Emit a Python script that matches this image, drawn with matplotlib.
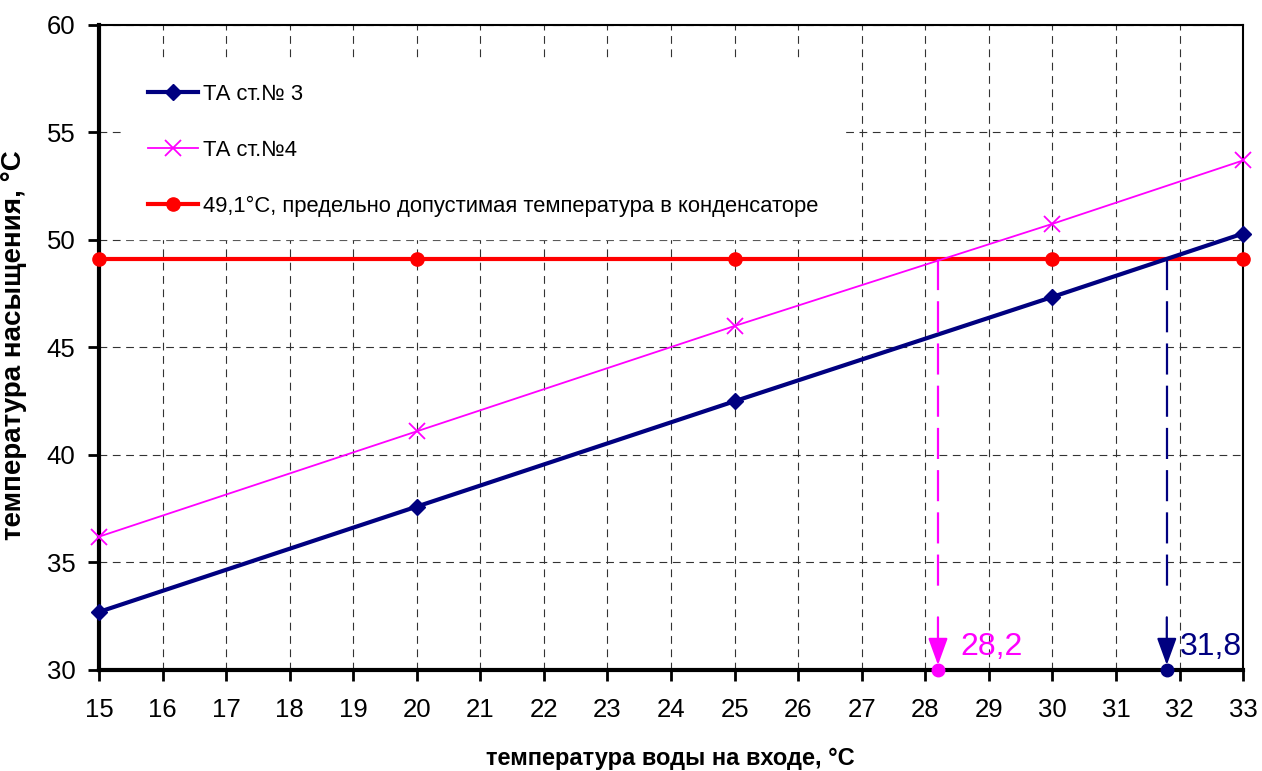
import matplotlib.pyplot as plt

plt.rcParams['font.family'] = ['Liberation Sans', 'DejaVu Sans']

# данные
x_pts = [15, 20, 25, 30, 33]
ta3 = [32.7, 37.6, 42.5, 47.35, 50.3]
ta4 = [36.2, 41.1, 46.0, 50.75, 53.7]
limit = [49.1, 49.1, 49.1, 49.1, 49.1]

x_ta4_cross = 28.2
x_ta3_cross = 31.8
label_ta4_cross = "28,2"
label_ta3_cross = "31,8"

x_ticks = list(range(15, 34))
y_ticks = [30, 35, 40, 45, 50, 55, 60]

navy = "#000080"
magenta = "#FF00FF"
red = "#FF0000"

fig = plt.figure(figsize=(12.62, 7.71), dpi=100)
ax = fig.add_axes([0.0784, 0.131, 0.9066, 0.8366])

ax.plot(x_pts, ta3, color=navy, lw=3, marker="D", markersize=8,
        label="ТА ст.№ 3", zorder=4, clip_on=False)
ax.plot(x_pts, ta4, color=magenta, lw=1.3, marker="x", markersize=11,
        markeredgewidth=1.3, label="ТА ст.№4", zorder=4, clip_on=False)
ax.plot(x_pts, limit, color=red, lw=3, marker="o", markersize=9.5,
        label="49,1°C, предельно допустимая температура в конденсаторе",
        zorder=3, clip_on=False)

# пересечения: пунктир вниз со стрелкой
for xc, col in [(x_ta4_cross, magenta), (x_ta3_cross, navy)]:
    ax.plot([xc, xc], [49.1, 33.5], color=col, lw=1.6, dashes=[14, 5], zorder=5)
    ax.annotate("", xy=(xc, 30.23), xytext=(xc, 32.45),
                arrowprops=dict(arrowstyle="-|>,head_length=0.55,head_width=0.2",
                                color=col, lw=1.6, mutation_scale=30,
                                shrinkA=0, shrinkB=0),
                zorder=5)
    ax.plot([xc], [30], marker="o", color=col, markersize=9, zorder=6, clip_on=False)

ax.text(28.55, 30.7, label_ta4_cross, color=magenta, fontsize=23,
        ha="left", va="baseline")
ax.text(32.0, 30.7, label_ta3_cross, color=navy, fontsize=23,
        ha="left", va="baseline")

ax.set_xlim(15, 33)
ax.set_ylim(30, 60)
ax.set_xticks(x_ticks)
ax.set_yticks(y_ticks)
ax.tick_params(axis="both", labelsize=18.5, length=8, width=2, direction="out")
ax.tick_params(axis="x", pad=12)
ax.tick_params(axis="y", pad=9)

ax.grid(True, color="0.2", lw=0.8, dashes=[7, 5])
ax.set_axisbelow(True)

for side in ["left", "bottom"]:
    ax.spines[side].set_linewidth(3)
for side in ["top", "right"]:
    ax.spines[side].set_linewidth(1.5)

ax.set_xlabel("температура воды на входе, °C", fontsize=17, fontweight="bold")
ax.xaxis.set_label_coords(0.499, -0.119)
ax.set_ylabel("температура насыщения, °C", fontsize=20, fontweight="bold")
ax.yaxis.set_label_coords(-0.063, 0.504)

leg = ax.legend(loc="upper left", bbox_to_anchor=(0.024, 0.943), borderaxespad=0,
                frameon=True, fontsize=15.8, handlelength=2.25, handletextpad=0.23,
                labelspacing=1.6, borderpad=1.0)
leg.get_frame().set_edgecolor("white")
leg.get_frame().set_facecolor("white")
leg.get_frame().set_alpha(1)
leg.get_frame().set_boxstyle("square", pad=0)

fig.savefig("out.png", dpi=100)
